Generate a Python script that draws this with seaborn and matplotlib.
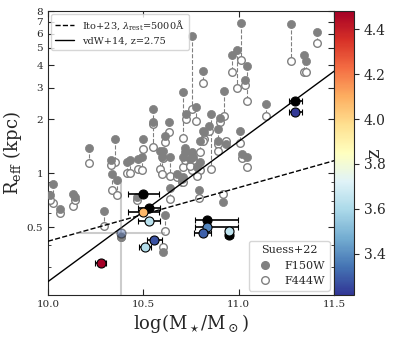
import numpy as np
import pandas as pd
import seaborn as sns
import matplotlib
matplotlib.use('Agg')
import matplotlib.pyplot as plt
from matplotlib.colors import Normalize
from matplotlib.lines import Line2D
from matplotlib.ticker import FixedLocator, FixedFormatter, NullFormatter

# Suess+22: stellar mass and sizes in F150W / F444W
suess_logm = [11.012, 11.273, 11.411, 11.342, 11.353, 10.754, 10.963, 10.993, 11.042, 11.033,
              10.813, 10.923, 11.143, 10.706, 10.775, 10.724, 10.853, 10.902, 10.820, 10.893,
              11.007, 11.042, 10.793, 10.919, 10.640, 10.844, 10.213, 10.353, 10.330, 10.552,
              10.552, 10.500, 10.633, 10.614, 10.605, 10.710, 10.718, 10.754, 10.762, 10.797,
              10.814, 10.893, 10.587, 10.596, 10.640, 10.413, 10.430, 10.474, 10.491, 10.334,
              10.363, 10.294, 10.028, 10.010, 10.063, 10.133, 10.142, 10.675, 10.701, 10.614,
              10.605, 10.465, 11.016, 10.745, 10.797, 10.780, 10.710, 10.933, 10.718, 10.381]
suess_f150 = [6.85, 6.80, 6.16, 4.54, 4.20, 5.83, 4.58, 4.84, 3.94, 3.29,
              3.73, 2.89, 2.42, 2.84, 2.34, 2.13, 2.15, 2.04, 1.69, 1.76,
              1.72, 1.23, 0.81, 0.69, 0.83, 1.84, 1.39, 1.55, 1.19, 2.29,
              1.92, 1.55, 1.92, 1.62, 1.34, 1.23, 1.31, 1.31, 1.23, 1.52,
              1.72, 1.52, 1.34, 1.23, 1.23, 1.15, 1.18, 1.20, 1.23, 0.99,
              0.92, 0.62, 0.87, 0.76, 0.63, 0.77, 0.74, 0.99, 0.93, 0.59,
              0.366, 0.74, 1.28, 1.20, 1.15, 1.09, 0.95, 1.45, 1.39, 0.445]
suess_f444 = [4.30, 4.20, 5.31, 3.67, 3.65, 2.27, 3.65, 2.99, 2.53, 3.12,
              3.19, 2.09, 2.09, 1.58, 1.96, 2.00, 1.06, 1.94, 1.55, 1.45,
              1.48, 1.09, 0.73, 0.77, 0.72, 1.72, 1.14, 1.16, 1.12, 1.41,
              1.88, 1.37, 1.71, 1.50, 1.21, 1.08, 1.18, 1.04, 1.18, 1.31,
              1.52, 1.34, 1.06, 0.99, 0.97, 1.01, 1.01, 1.06, 1.04, 0.81,
              0.76, 0.51, 0.68, 0.71, 0.60, 0.66, 0.71, 0.95, 0.89, 0.48,
              0.39, 0.71, 1.22, 1.10, 1.04, 0.97, 0.89, 1.52, 1.25, 0.445]

# this work: galaxies with error bars (nan z -> black)
obs_logm = [10.499, 10.530, 10.499, 10.529, 10.557, 10.508, 10.277, 10.836, 10.836, 10.810,
            10.948, 10.948, 11.297, 11.297]
obs_reff = [0.769, 0.644, 0.606, 0.545, 0.428, 0.388, 0.315, 0.552, 0.502, 0.466,
            0.452, 0.478, 2.52, 2.19]
obs_err_lo = [0.082, 0.057, 0.081, 0.056, 0.038, 0.030, 0.029, 0.063, 0.063, 0.046,
              0.020, 0.020, 0.033, 0.033]
obs_err_hi = [0.082, 0.057, 0.081, 0.056, 0.038, 0.030, 0.029, 0.159, 0.159, 0.046,
              0.020, 0.020, 0.033, 0.033]
obs_z = [np.nan, np.nan, 4.08, 3.63, 3.27, 3.62, 4.48, np.nan, 3.38, 3.30,
         np.nan, 3.64, np.nan, 3.22]

# uncertain object (drawn faded)
unc_logm, unc_reff, unc_z = 10.381, 0.468, 3.30
unc_xerr = [0.234, 0.232]
unc_yerr = [0.45, 0.45]

# scaling relations
vdw_norm, vdw_slope = -0.056, 0.781   # log Reff at logM = 10.7
ito_norm, ito_slope = -0.378, 0.299   # log Reff at logM = 10.0

sns.set_style('ticks')
plt.rcParams['font.family'] = ['DejaVu Serif']
plt.rcParams['mathtext.fontset'] = 'dejavuserif'

fig = plt.figure(figsize=(4.07, 3.38), dpi=100)
ax = fig.add_axes([0.118, 0.127, 0.703, 0.840])
cax = fig.add_axes([0.821, 0.127, 0.049, 0.840])

suess = pd.DataFrame({'logm': suess_logm, 'f150': suess_f150, 'f444': suess_f444})
for _, r in suess.iterrows():
    ax.plot([r.logm, r.logm], [r.f150, r.f444], ls='--', color='gray', lw=0.8, zorder=1)
sns.scatterplot(data=suess, x='logm', y='f444', ax=ax, s=30, color='white',
                edgecolor='gray', linewidth=1.0, zorder=2)
sns.scatterplot(data=suess, x='logm', y='f150', ax=ax, s=34, color='gray',
                edgecolor='gray', linewidth=0.5, zorder=3)

xx = np.linspace(10, 11.5, 50)
ax.plot(xx, 10 ** (ito_norm + ito_slope * (xx - 10.0)), 'k--', lw=1.0, zorder=4)
ax.plot(xx, 10 ** (vdw_norm + vdw_slope * (xx - 10.7)), 'k-', lw=1.0, zorder=4)

cmap = plt.get_cmap('RdYlBu_r')
norm = Normalize(vmin=3.215, vmax=4.481)

ax.errorbar(unc_logm, unc_reff, xerr=[[unc_xerr[0]], [unc_xerr[1]]],
            yerr=[[unc_yerr[0]], [unc_yerr[1]]], fmt='o', ms=6.5,
            mfc=cmap(norm(unc_z)), mec='k', ecolor='gray', elinewidth=1.5,
            alpha=0.4, zorder=5)

for x, y, lo, hi, z in zip(obs_logm, obs_reff, obs_err_lo, obs_err_hi, obs_z):
    c = 'k' if np.isnan(z) else cmap(norm(z))
    ax.errorbar(x, y, xerr=[[lo], [hi]], fmt='o', ms=6.5, mfc=c, mec='k', mew=0.8,
                ecolor='k', elinewidth=1.2, capsize=2.5, capthick=1.0, zorder=6)

ax.set_yscale('log')
ax.set_xlim(10.0, 11.5)
ax.set_ylim(0.21, 8.0)
yt = [0.5, 1, 2, 3, 4, 5, 6, 7, 8]
ax.yaxis.set_major_locator(FixedLocator(yt))
ax.yaxis.set_major_formatter(FixedFormatter(['0.5', '1', '2', '3', '4', '5', '6', '7', '8']))
ax.yaxis.set_minor_locator(FixedLocator([0.3, 0.4, 0.6, 0.7, 0.8, 0.9]))
ax.yaxis.set_minor_formatter(NullFormatter())
ax.set_xticks([10.0, 10.5, 11.0, 11.5])
ax.tick_params(which='both', direction='in', top=True, right=True, labelsize=7.5)
ax.tick_params(which='major', length=4)
ax.tick_params(which='minor', length=2)
ax.set_xlabel(r'log(M$_\star$/M$_\odot$)', fontsize=13, labelpad=2)
ax.set_ylabel(r'R$_{\rm eff}$ (kpc)', fontsize=13, labelpad=2)

leg1 = ax.legend(handles=[Line2D([], [], color='k', ls='--', lw=1.0),
                          Line2D([], [], color='k', ls='-', lw=1.0)],
                 labels=[r'Ito+23, $\lambda_{\rm rest}$=5000Å', 'vdW+14, z=2.75'],
                 loc='upper left', fontsize=7, borderaxespad=0.3, handlelength=2.0)
ax.add_artist(leg1)
ax.legend(handles=[Line2D([], [], marker='o', ls='', color='gray', ms=5.5),
                   Line2D([], [], marker='o', ls='', mfc='white', mec='gray', ms=5.5)],
          labels=['F150W', 'F444W'], title='Suess+22', title_fontsize=8,
          loc='lower right', fontsize=8, borderaxespad=0.4)

sm = plt.cm.ScalarMappable(cmap=cmap, norm=norm)
cb = fig.colorbar(sm, cax=cax)
cb.set_ticks([3.4, 3.6, 3.8, 4.0, 4.2, 4.4])
cb.ax.tick_params(labelsize=10)
cb.set_label('z', fontsize=13, labelpad=-15)

fig.savefig('out.png', dpi=100)
